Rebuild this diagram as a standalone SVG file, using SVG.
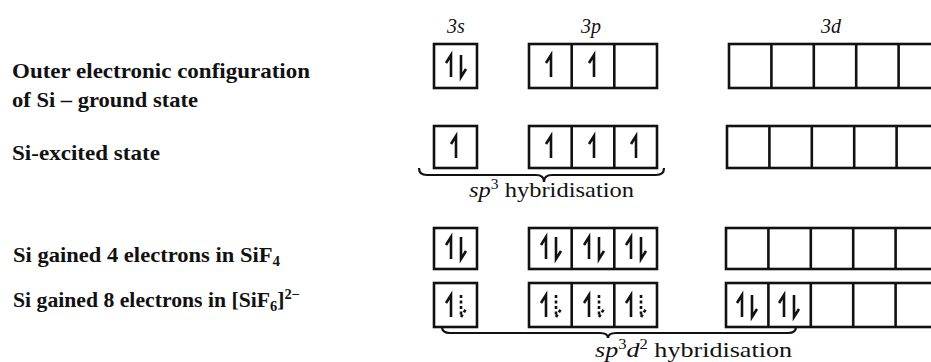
<svg xmlns="http://www.w3.org/2000/svg" width="931" height="362" viewBox="0 0 931 362">
<defs>
<style>
.bx{fill:none;stroke:#111;stroke-width:2.6}
.e{fill:none;stroke:#111;stroke-width:2.6;stroke-linejoin:miter}
.ed{fill:none;stroke:#111;stroke-width:2.6;stroke-dasharray:3 2.5}
.lbl{font-family:"Liberation Serif","Times New Roman",serif;font-size:21px;font-weight:bold;fill:#111}
.orb{font-family:"Liberation Serif","Times New Roman",serif;font-size:20px;font-style:italic;fill:#111}
.hyb{font-family:"Liberation Serif","Times New Roman",serif;font-size:22px;fill:#111}
.br{fill:none;stroke:#111;stroke-width:2.2}
</style>
<path id="up" d="M0,11 V-11 l-5,8"/>
<path id="dn" d="M0,-11 V11 l5,-8"/>
</defs>
<rect width="931" height="362" fill="#fff"/>

<g id="headers">
<text class="orb" x="456" y="33" text-anchor="middle">3s</text>
<text class="orb" x="591" y="33" text-anchor="middle">3p</text>
<text class="orb" x="831" y="33" text-anchor="middle">3d</text>
</g>

<g id="labels">
<text class="lbl" x="12" y="78" textLength="298" lengthAdjust="spacingAndGlyphs">Outer electronic configuration</text>
<text class="lbl" x="12" y="107" textLength="186" lengthAdjust="spacingAndGlyphs">of Si – ground state</text>
<text class="lbl" x="12" y="160" textLength="148" lengthAdjust="spacingAndGlyphs">Si-excited state</text>
<text class="lbl" x="13" y="262" textLength="267" lengthAdjust="spacingAndGlyphs">Si gained 4 electrons in SiF<tspan font-size="14" dy="4">4</tspan></text>
<text class="lbl" x="13" y="307" textLength="287" lengthAdjust="spacingAndGlyphs">Si gained 8 electrons in [SiF<tspan font-size="14" dy="4">6</tspan><tspan dy="-4">]</tspan><tspan font-size="14" dy="-8">2−</tspan></text>
</g>

<g id="row-ground">
<rect class="bx" x="434" y="44" width="43" height="44"/>
<rect class="bx" x="529" y="44" width="128" height="44"/>
<path class="bx" d="M571.7,44V88M614.3,44V88"/>
<rect class="bx" x="729" y="44" width="215" height="44"/>
<path class="bx" d="M771.4,44V88M813.8,44V88M856.2,44V88M898.6,44V88"/>
<use href="#up" class="e" x="451" y="66"/>
<use href="#dn" class="e" x="461" y="66"/>
<use href="#up" class="e" x="551" y="66"/>
<use href="#up" class="e" x="594" y="66"/>
</g>

<g id="row-excited">
<rect class="bx" x="434" y="126" width="43" height="42"/>
<rect class="bx" x="529" y="126" width="128" height="42"/>
<path class="bx" d="M571.7,126V168M614.3,126V168"/>
<rect class="bx" x="727" y="126" width="215" height="42"/>
<path class="bx" d="M769.4,126V168M811.8,126V168M854.2,126V168M896.6,126V168"/>
<use href="#up" class="e" x="456" y="147"/>
<use href="#up" class="e" x="551" y="147"/>
<use href="#up" class="e" x="594" y="147"/>
<use href="#up" class="e" x="636" y="147"/>
</g>

<g id="row-sif4">
<rect class="bx" x="434" y="228" width="43" height="41"/>
<rect class="bx" x="529" y="228" width="128" height="41"/>
<path class="bx" d="M571.7,228V269M614.3,228V269"/>
<rect class="bx" x="726" y="228" width="215" height="41"/>
<path class="bx" d="M768.4,228V269M810.8,228V269M853.2,228V269M895.6,228V269"/>
<use href="#up" class="e" x="451" y="248"/>
<use href="#dn" class="e" x="461" y="248"/>
<use href="#up" class="e" x="546" y="248"/>
<use href="#dn" class="e" x="556" y="248"/>
<use href="#up" class="e" x="589" y="248"/>
<use href="#dn" class="e" x="599" y="248"/>
<use href="#up" class="e" x="631" y="248"/>
<use href="#dn" class="e" x="641" y="248"/>
</g>

<g id="row-sif6">
<rect class="bx" x="434" y="283" width="43" height="44"/>
<rect class="bx" x="529" y="283" width="128" height="44"/>
<path class="bx" d="M571.7,283V327M614.3,283V327"/>
<rect class="bx" x="726" y="283" width="215" height="44"/>
<path class="bx" d="M768.4,283V327M810.8,283V327M853.2,283V327M895.6,283V327"/>
<use href="#up" class="e" x="451" y="306"/>
<use href="#dn" class="ed" x="461" y="306"/>
<use href="#up" class="e" x="546" y="306"/>
<use href="#dn" class="ed" x="556" y="306"/>
<use href="#up" class="e" x="589" y="306"/>
<use href="#dn" class="ed" x="599" y="306"/>
<use href="#up" class="e" x="631" y="306"/>
<use href="#dn" class="ed" x="641" y="306"/>
<use href="#up" class="e" x="742" y="306"/>
<use href="#dn" class="e" x="752" y="306"/>
<use href="#up" class="e" x="784" y="306"/>
<use href="#dn" class="e" x="794" y="306"/>
</g>

<g id="connectors">
<path class="br" d="M419,168 q0,7 8,7 H536 q8,0 8,7 q0,-7 8,-7 H656 q8,0 8,-7"/>
<path class="br" d="M442,327 q0,6 8,6 H600 q8,0 8,5 q0,-5 8,-5 H788 q8,0 8,-6"/>
</g>

<g id="hyb-labels">
<text class="hyb" x="469" y="197" textLength="165" lengthAdjust="spacingAndGlyphs"><tspan font-style="italic">sp</tspan><tspan font-size="14" dy="-8">3</tspan><tspan dy="8"> hybridisation</tspan></text>
<text class="hyb" x="595" y="357" textLength="197" lengthAdjust="spacingAndGlyphs"><tspan font-style="italic">sp</tspan><tspan font-size="14" dy="-8">3</tspan><tspan font-style="italic" dy="8">d</tspan><tspan font-size="14" dy="-8">2</tspan><tspan dy="8"> hybridisation</tspan></text>
</g>
</svg>
